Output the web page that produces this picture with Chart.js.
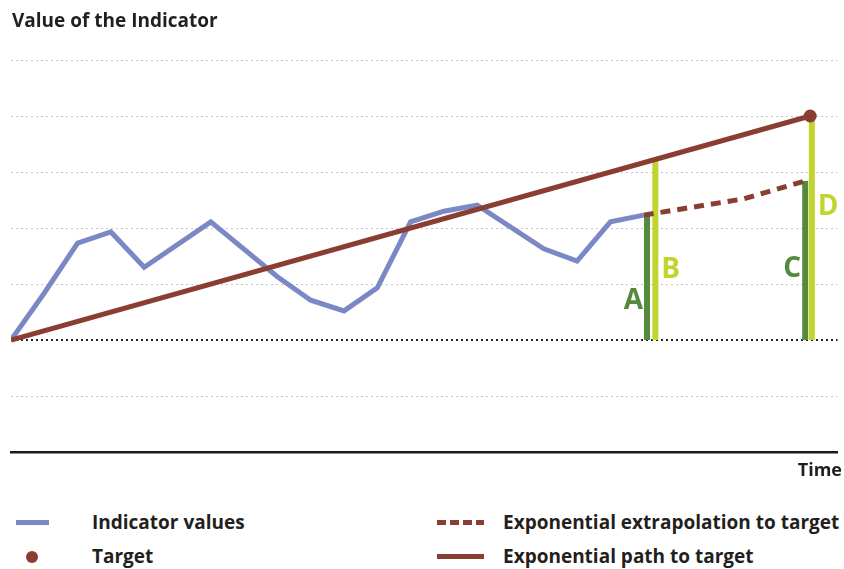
<!DOCTYPE html>
<html>
<head>
<meta charset="utf-8">
<script src="https://cdn.jsdelivr.net/npm/chart.js@4/dist/chart.umd.min.js"></script>
<style>
  body { margin: 0; background: #fff; font-family: "Open Sans", sans-serif; }
  #wrap { position: relative; width: 844px; height: 569px; }
  #chartBox { position: absolute; left: 0; top: 0; width: 844px; height: 480px; }
  .txt { position: absolute; font-weight: 700; color: #231f20; font-size: 19px; white-space: nowrap; }
  .sym { position: absolute; }
</style>
</head>
<body>
<div id="wrap">
  <div id="chartBox"><canvas id="myChart"></canvas></div>
  <div class="txt" style="left:12px; top:7px;">Value of the Indicator</div>
  <div class="txt" style="right:2px; top:457px; font-size:18px;">Time</div>

  <div class="sym" style="left:16px; top:520px; width:33px; height:5px; background:#7b88c6;"></div>
  <div class="txt" style="left:92px; top:509px;">Indicator values</div>
  <div class="sym" style="left:26px; top:551px; width:12px; height:12px; border-radius:50%; background:#8a3e32;"></div>
  <div class="txt" style="left:92px; top:543px;">Target</div>

  <div class="sym" style="left:437px; top:520px; width:47px; height:5px; background:repeating-linear-gradient(90deg,#8a3e32 0 9px,transparent 9px 13px);"></div>
  <div class="txt" style="left:503px; top:509px;">Exponential extrapolation to target</div>
  <div class="sym" style="left:437px; top:554px; width:47px; height:5px; background:#8a3e32;"></div>
  <div class="txt" style="left:503px; top:543px;">Exponential path to target</div>
</div>
<script>
// time index and indicator values (grid unit = 1)
const indicatorT = [0, 1, 2, 3, 4, 6, 8, 9, 10, 11, 12, 13, 14, 16, 17, 18, 19];
const indicatorV = [0, 0.84, 1.73, 1.93, 1.30, 2.11, 1.13, 0.71, 0.52, 0.93, 2.11, 2.30, 2.41, 1.63, 1.41, 2.11, 2.23];

const pathT = [0, 24];
const pathV = [0, 4];

const extrapT = [19, 22, 23.85];
const extrapV = [2.23, 2.52, 2.84];

const targetT = 24;
const targetV = 4;

const markerLabels = ["A", "B", "C", "D"];
const markerT = [19.1, 19.35, 23.85, 24.05];
const markerV = [2.23, 3.22, 2.84, 4];
const markerLabelV = [0.72, 1.27, 1.28, 2.39];

const BLUE = "#7b88c6";
const BROWN = "#8a3e32";
const DARK_GREEN = "#548a3e";
const LIGHT_GREEN = "#c2d52f";
const markerColors = [DARK_GREEN, LIGHT_GREEN, DARK_GREEN, LIGHT_GREEN];

const zip = (xs, ys) => xs.map((x, i) => ({ x, y: ys[i] }));

const markerSets = markerT.map((t, i) => ({
  data: [{ x: t, y: 0 }, { x: t, y: markerV[i] }],
  borderColor: markerColors[i],
  borderWidth: 6,
  borderCapStyle: "butt",
  pointRadius: 0,
  order: 5,
}));

const letterPlugin = {
  id: "letters",
  afterDatasetsDraw(chart) {
    const { ctx, scales } = chart;
    ctx.save();
    ctx.font = "700 28px 'Open Sans', sans-serif";
    ctx.textBaseline = "middle";
    markerLabels.forEach((l, i) => {
      const px = scales.x.getPixelForValue(markerT[i]);
      const py = scales.y.getPixelForValue(markerLabelV[i]);
      const left = i % 2 === 1;
      ctx.fillStyle = markerColors[i];
      ctx.textAlign = left ? "left" : "right";
      ctx.fillText(l, left ? px + 6 : px - 4, py + 1);
    });
    ctx.restore();
  },
};

const ctx = document.getElementById("myChart").getContext("2d");
new Chart(ctx, {
  type: "line",
  data: {
    datasets: [
      {
        data: [{ x: targetT, y: targetV }],
        pointRadius: 6.5,
        pointBackgroundColor: BROWN,
        pointBorderWidth: 0,
        showLine: false,
        order: 0,
      },
      {
        data: zip(pathT, pathV),
        borderColor: BROWN,
        borderWidth: 5,
        pointRadius: 0,
        order: 1,
      },
      {
        data: zip(extrapT, extrapV),
        borderColor: BROWN,
        borderWidth: 5,
        borderDash: [10, 7],
        borderCapStyle: "butt",
        pointRadius: 0,
        order: 2,
      },
      {
        data: zip(indicatorT, indicatorV),
        borderColor: BLUE,
        borderWidth: 5,
        pointRadius: 0,
        order: 3,
      },
      ...markerSets,
    ],
  },
  options: {
    responsive: true,
    maintainAspectRatio: false,
    animation: false,
    layout: { padding: { top: 60, left: 11, right: 0, bottom: 28 } },
    plugins: { legend: { display: false }, tooltip: { enabled: false } },
    scales: {
      x: {
        type: "linear",
        min: 0,
        max: 24.82,
        ticks: { display: false },
        grid: { display: false, drawTicks: false },
        border: { display: true, color: "#1a1a1a", width: 2.5 },
      },
      y: {
        min: -2,
        max: 5,
        ticks: { display: false, stepSize: 1 },
        grid: {
          drawTicks: false,
          color: (c) => (c.tick.value === 0 ? "#222" : c.tick.value === -2 ? "rgba(0,0,0,0)" : "#c4c4c4"),
          lineWidth: (c) => (c.tick.value === 0 ? 2 : 1),
        },
        border: { display: false, dash: [2, 3] },
      },
    },
  },
  plugins: [letterPlugin],
});
</script>
</body>
</html>
